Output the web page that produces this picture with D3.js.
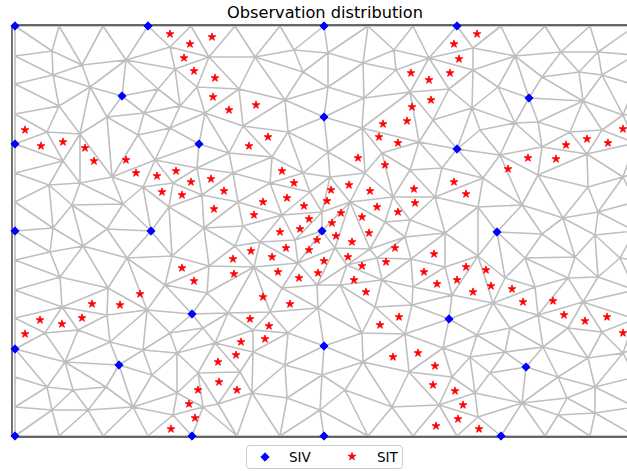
<!DOCTYPE html>
<html>
<head>
<meta charset="utf-8">
<script src="https://cdn.jsdelivr.net/npm/d3@7"></script>
<style>
  body { margin: 0; background: #fff; }
  text { font-family: "DejaVu Sans", sans-serif; fill: #000; }
</style>
</head>
<body>
<script>
const w = 627;
const h = 471;

// data coordinates: x east of the left boundary, y north of the bottom boundary
const title = "Observation distribution";
const seriesNames = ["SIV", "SIT"];

// mesh boundary nodes
const leftEdgeY = [380, 352, 322, 263, 234, 176, 146, 118, 59, 29];
const rightEdgeY = [381, 351, 322, 293, 263, 234, 205, 176, 146, 117, 88, 59, 29];
const topEdgeX = [44, 88, 176, 220, 265, 353, 398, 486, 530, 575, 620];
const bottomEdgeX = [44, 88, 133, 222, 265, 353, 398, 442, 530, 575, 620];

// mesh interior nodes
const meshNodes = [
  [37,385],[111,376],[67,371],[38,361],[75,349],[44,330],[92,319],[32,304],[65,302],[129,323],
  [143,347],[160,367],[155,389],[194,379],[182,349],[165,330],[190,323],[155,308],[123,301],[48,275],[140,276],
  [240,379],[279,386],[313,383],[348,373],[379,386],[381,366],[224,347],[288,364],[313,349],[270,336],
  [349,338],[395,344],[228,310],[273,304],[347,308],[313,284],[257,279],[214,283],[367,283],[404,294],
  [414,378],[458,388],[458,366],[500,380],[546,384],[583,384],[527,359],[564,364],[587,361],[483,349],
  [434,347],[568,335],[457,328],[418,316],[465,306],[500,313],[523,314],[555,304],[587,306],[485,281],
  [527,289],[572,282],[608,321],
  [34,251],[65,253],[97,259],[128,249],[158,253],[187,241],[182,268],[57,231],[108,232],[154,229],
  [38,208],[92,207],[189,208],[35,184],[68,190],[112,178],[157,180],[194,170],[45,159],[93,148],
  [150,151],[192,143],[47,129],
  [218,263],[255,253],[288,263],[315,259],[350,263],[395,266],[223,234],[267,221],[295,244],[335,234],
  [378,239],[307,224],[370,214],[395,216],[228,210],[280,196],[320,188],[355,187],[245,194],[220,190],
  [390,199],[239,169],[283,173],[332,171],[362,178],[396,177],[267,148],[302,151],[325,151],[367,156],
  [398,149],[360,129],[303,128],[213,123],
  [427,268],[468,258],[523,261],[573,249],[608,259],[420,239],[507,231],[548,218],[583,224],[463,229],
  [430,203],[527,202],[580,201],[463,180],[510,178],[560,179],[605,178],[430,169],[490,158],[520,149],
  [553,158],[583,159],[437,141],[478,133],[568,134],
  [92,121],[132,126],[30,103],[63,106],[95,94],[128,86],[155,103],[188,108],[50,74],[162,83],
  [137,61],[183,63],[32,49],[58,46],[91,49],[118,29],[162,43],[37,26],[73,26],[158,21],[188,29],
  [255,124],[200,93],[238,106],[273,103],[347,103],[390,102],[238,84],[270,71],[225,64],[307,61],
  [348,74],[394,64],[237,43],[272,38],[330,46],[305,26],[377,29],[203,32],
  [397,131],[462,101],[495,108],[523,121],[553,108],[587,104],[428,88],[455,79],[490,84],[528,89],
  [573,78],[608,83],[437,59],[475,63],[543,59],[580,49],[460,43],[507,33],[552,38],[424,31],
  [463,19],[543,21],[580,23]
];

// SIV observation points (also mesh nodes)
const sivPts = [
  [0,410],[133,410],[309,410],[442,410],[107,340],[0,292],[184,292],[309,319],[514,338],[442,287],
  [0,205],[136,205],[307,205],[482,204],[177,122],[0,87],[104,71],[309,90],[434,117],[511,69],
  [0,0],[177,0],[309,0],[486,0]
];

// SIT observation points
const sitPts = [
  [155,402],[175,392],[169,378],[179,365],[197,399],[200,358],[198,339],[214,326],[241,331],[253,299],
  [234,290],[10,306],[26,290],[48,294],[70,288],[79,275],[111,276],[121,263],[142,260],[161,265],
  [176,254],[147,244],[167,241],[196,257],[209,245],[199,227],[267,265],[279,253],[248,234],[272,238],
  [239,221],[289,230],[294,217],[265,204],[285,207],[316,246],[312,235],[334,251],[343,278],[370,271],
  [355,245],[326,223],[317,213],[347,219],[362,229],[383,224],[399,247],[400,233],[302,196],[321,200],
  [337,194],[354,203],[271,188],[294,186],[236,185],[257,179],[218,177],[219,162],[263,164],[284,158],
  [303,163],[309,175],[333,179],[347,170],[380,188],[371,174],[339,156],[351,144],[248,139],[275,132],
  [396,363],[397,329],[392,315],[368,312],[364,299],[383,293],[462,402],[439,392],[444,377],[435,363],
  [414,356],[416,336],[608,307],[593,293],[572,297],[551,291],[513,278],[541,277],[493,267],[439,254],
  [451,242],[167,168],[179,155],[125,142],[77,132],[105,131],[419,182],[409,164],[422,152],[451,169],
  [471,166],[442,156],[476,150],[458,144],[497,147],[508,134],[538,135],[25,116],[47,112],[67,118],
  [10,102],[183,46],[174,32],[180,18],[156,7],[235,117],[254,110],[226,94],[250,97],[221,81],
  [203,74],[204,54],[222,46],[365,111],[384,119],[378,79],[403,83],[549,121],[570,115],[592,119],
  [608,103],[420,70],[418,51],[440,45],[448,31],[443,17],[421,10],[464,7]
];

const x = d3.scaleLinear().domain([-3, 623]).range([12, 638]);
const y = d3.scaleLinear().domain([-1, 411]).range([437, 25]);

const svg = d3.select("body")
  .append("svg")
  .attr("width", w)
  .attr("height", h);

// all mesh nodes
const nodes = []
  .concat(leftEdgeY.map(v => [0, v]))
  .concat(rightEdgeY.map(v => [620, v]))
  .concat(topEdgeX.map(v => [v, 410]))
  .concat(bottomEdgeX.map(v => [v, 0]))
  .concat(meshNodes)
  .concat(sivPts);

const delaunay = d3.Delaunay.from(nodes, d => x(d[0]), d => y(d[1]));

// triangular mesh
svg.append("path")
  .attr("d", delaunay.render())
  .attr("fill", "none")
  .attr("stroke", "#bfbfbf")
  .attr("stroke-width", 1.6)
  .attr("stroke-linejoin", "round");

// spines
const spine = svg.append("g")
  .attr("stroke", "#3a3a3a")
  .attr("stroke-width", 1.4)
  .attr("fill", "none");
spine.append("line")
  .attr("x1", x.range()[0]).attr("x2", x.range()[0])
  .attr("y1", y.range()[1]).attr("y2", y.range()[0]);
spine.append("line")
  .attr("x1", x.range()[0]).attr("x2", x.range()[1])
  .attr("y1", y.range()[1]).attr("y2", y.range()[1]);
spine.append("line")
  .attr("x1", x.range()[0]).attr("x2", x.range()[1])
  .attr("y1", y.range()[0]).attr("y2", y.range()[0]);

const diamond = d3.symbol().type(d3.symbolDiamond2).size(44);
const star = d3.symbol().type(d3.symbolStar).size(19);

svg.append("g")
  .selectAll("path")
  .data(sivPts)
  .enter()
  .append("path")
  .attr("d", diamond)
  .attr("transform", d => "translate(" + x(d[0]) + "," + y(d[1]) + ")")
  .attr("fill", "#0000ff")
  .attr("stroke", "#0000ff")
  .attr("stroke-width", 1);

svg.append("g")
  .selectAll("path")
  .data(sitPts)
  .enter()
  .append("path")
  .attr("d", star)
  .attr("transform", d => "translate(" + x(d[0]) + "," + y(d[1]) + ")")
  .attr("fill", "#ff0000")
  .attr("stroke", "#ff0000")
  .attr("stroke-width", 0.8);

// title
svg.append("text")
  .attr("x", (x.range()[0] + x.range()[1]) / 2)
  .attr("y", 17.5)
  .attr("text-anchor", "middle")
  .style("font-size", "16.2px")
  .text(title);

// legend
const lg = svg.append("g").attr("transform", "translate(246,445)");
lg.append("rect")
  .attr("x", 0.5).attr("y", 0.5)
  .attr("width", 156).attr("height", 23)
  .attr("rx", 3)
  .attr("fill", "#fff")
  .attr("fill-opacity", 0.8)
  .attr("stroke", "#cccccc")
  .attr("stroke-width", 1);
lg.append("path")
  .attr("d", diamond)
  .attr("transform", "translate(19,12)")
  .attr("fill", "#0000ff")
  .attr("stroke", "#0000ff");
lg.append("text")
  .attr("x", 43).attr("y", 16.5)
  .style("font-size", "13.5px")
  .text(seriesNames[0]);
lg.append("path")
  .attr("d", star)
  .attr("transform", "translate(106,11.5)")
  .attr("fill", "#ff0000")
  .attr("stroke", "#ff0000")
  .attr("stroke-width", 0.8);
lg.append("text")
  .attr("x", 131).attr("y", 16.5)
  .style("font-size", "13.5px")
  .text(seriesNames[1]);
</script>
</body>
</html>
